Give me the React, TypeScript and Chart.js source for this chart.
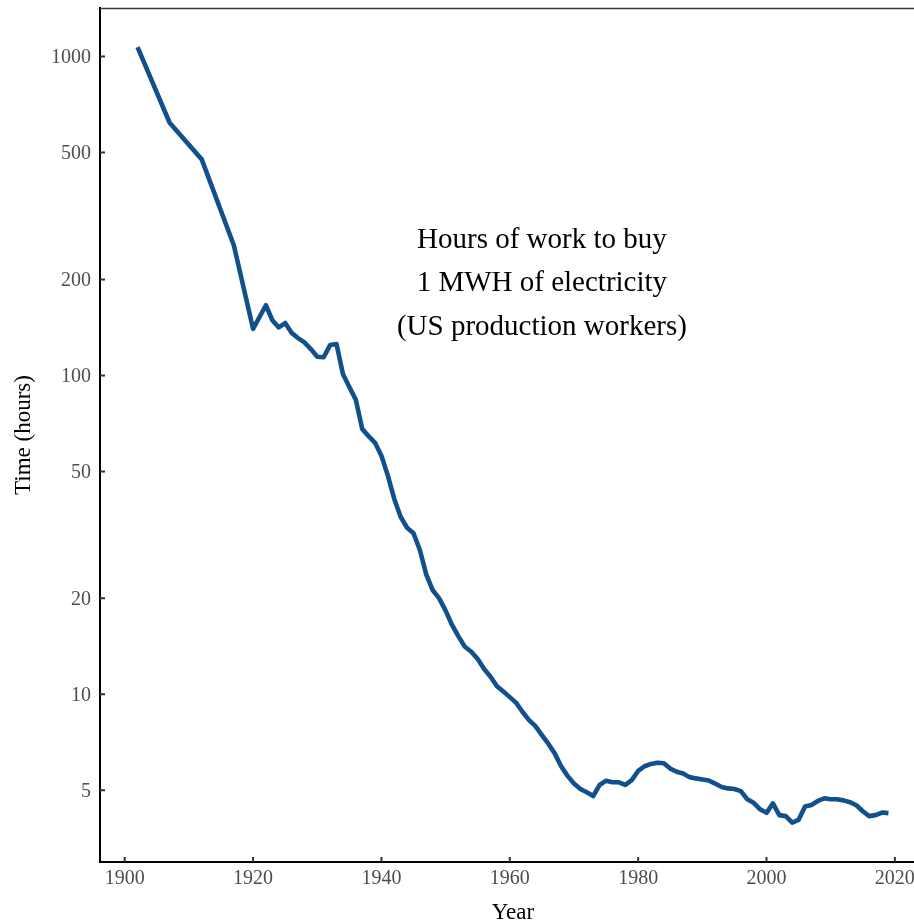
import React, { useEffect, useRef } from "react";
import { Chart, registerables } from "chart.js";

Chart.register(...registerables);

const years: number[] = [
  1902, 1907, 1912, 1917, 1920, 1922, 1923, 1924, 1925, 1926, 1927, 1928, 1929,
  1930, 1931, 1932, 1933, 1934, 1935, 1936, 1937, 1938, 1939, 1940, 1941, 1942,
  1943, 1944, 1945, 1946, 1947, 1948, 1949, 1950, 1951, 1952, 1953, 1954, 1955,
  1956, 1957, 1958, 1959, 1960, 1961, 1962, 1963, 1964, 1965, 1966, 1967, 1968,
  1969, 1970, 1971, 1972, 1973, 1974, 1975, 1976, 1977, 1978, 1979, 1980, 1981,
  1982, 1983, 1984, 1985, 1986, 1987, 1988, 1989, 1990, 1991, 1992, 1993, 1994,
  1995, 1996, 1997, 1998, 1999, 2000, 2001, 2002, 2003, 2004, 2005, 2006, 2007,
  2008, 2009, 2010, 2011, 2012, 2013, 2014, 2015, 2016, 2017, 2018, 2019,
];

const hours: number[] = [
  1070, 620, 476, 256, 140, 166, 149, 141.5, 146, 136, 131, 127, 121,
  114.5, 114, 124.5, 125.5, 101, 92, 84, 68, 64.5, 61.5, 56, 48.5, 41,
  36, 33.3, 32, 28.3, 23.7, 21.2, 20, 18.3, 16.5, 15.2, 14.1, 13.6, 12.9,
  12.0, 11.35, 10.6, 10.2, 9.8, 9.4, 8.8, 8.3, 7.95, 7.45, 7.0, 6.53, 5.95,
  5.55, 5.25, 5.05, 4.93, 4.8, 5.2, 5.36, 5.3, 5.3, 5.2, 5.38, 5.75, 5.95,
  6.05, 6.1, 6.08, 5.85, 5.72, 5.65, 5.5, 5.45, 5.41, 5.37, 5.25, 5.12, 5.07,
  5.05, 4.97, 4.69, 4.57, 4.36, 4.25, 4.55, 4.18, 4.15, 3.96, 4.04, 4.45, 4.5,
  4.63, 4.72, 4.69, 4.69, 4.65, 4.59, 4.49, 4.3, 4.15, 4.18, 4.26, 4.24,
];

const xTicks: number[] = [1900, 1920, 1940, 1960, 1980, 2000, 2020];
const yTicks: number[] = [5, 10, 20, 50, 100, 200, 500, 1000];

const annotationLines: string[] = [
  "Hours of work to buy",
  "1 MWH of electricity",
  "(US production workers)",
];
const annotationX = 1965;
const annotationY = 200;

const FONT = "'Liberation Serif', 'Times New Roman', Times, serif";
const LINE_COLOR = "#12508d";

const decorPlugin = {
  id: "decor",
  afterDraw(chart: any) {
    const { ctx, chartArea, scales } = chart;
    const xs = scales.x;
    const ys = scales.y;
    ctx.save();
    // top panel border
    ctx.strokeStyle = "#3a3a3a";
    ctx.lineWidth = 1.4;
    ctx.beginPath();
    ctx.moveTo(chartArea.left, chartArea.top + 0.5);
    ctx.lineTo(chartArea.right, chartArea.top + 0.5);
    ctx.stroke();
    // inward tick marks
    ctx.strokeStyle = "#333333";
    ctx.lineWidth = 2;
    ctx.beginPath();
    for (const v of yTicks) {
      const py = ys.getPixelForValue(v);
      ctx.moveTo(chartArea.left, py);
      ctx.lineTo(chartArea.left + 5, py);
    }
    for (const v of xTicks) {
      const px = xs.getPixelForValue(v);
      ctx.moveTo(px, chartArea.bottom);
      ctx.lineTo(px, chartArea.bottom - 5);
    }
    ctx.stroke();
    // annotation text
    const ax = xs.getPixelForValue(annotationX);
    const ay = ys.getPixelForValue(annotationY);
    ctx.fillStyle = "#000000";
    ctx.font = `29px ${FONT}`;
    ctx.textAlign = "center";
    ctx.textBaseline = "alphabetic";
    annotationLines.forEach((t, i) => {
      ctx.fillText(t, ax, ay + 12 + (i - 1) * 43.5);
    });
    ctx.restore();
  },
};

export default function App() {
  const canvasRef = useRef<HTMLCanvasElement | null>(null);

  useEffect(() => {
    if (!canvasRef.current) return;
    const chart = new Chart(canvasRef.current, {
      type: "line",
      data: {
        datasets: [
          {
            data: years.map((yr, i) => ({ x: yr, y: hours[i] })),
            borderColor: LINE_COLOR,
            borderWidth: 4.6,
            pointRadius: 0,
            tension: 0,
            fill: false,
            borderJoinStyle: "round",
            borderCapStyle: "butt",
          },
        ],
      },
      options: {
        responsive: false,
        animation: false,
        layout: { padding: { top: 8, left: 0, right: 0, bottom: 0 } },
        plugins: {
          legend: { display: false },
          tooltip: { enabled: false },
        },
        scales: {
          x: {
            type: "linear",
            min: 1896.15,
            max: 2024.85,
            afterBuildTicks: (s: any) => {
              s.ticks = xTicks.map((v) => ({ value: v }));
            },
            afterFit: (s: any) => {
              s.height = 60;
              s.paddingLeft = 0;
              s.paddingRight = 0;
              s.paddingTop = 0;
              s.paddingBottom = 0;
            },
            ticks: {
              callback: (v: any) => String(v),
              font: { family: FONT, size: 20 },
              color: "#4d4d4d",
              padding: 5,
              maxRotation: 0,
              autoSkip: false,
            },
            grid: { display: false, drawTicks: false },
            border: { display: true, color: "#000000", width: 2 },
            title: {
              display: true,
              text: "Year",
              color: "#000000",
              font: { family: FONT, size: 23, lineHeight: 1.05 },
              padding: { top: 0, bottom: -3 },
            },
          },
          y: {
            type: "logarithmic",
            min: 2.98,
            max: 1420,
            afterBuildTicks: (s: any) => {
              s.ticks = yTicks.map((v) => ({ value: v }));
            },
            afterFit: (s: any) => {
              s.width = 100;
              s.paddingTop = 0;
              s.paddingBottom = 0;
              s.paddingLeft = 0;
              s.paddingRight = 0;
            },
            ticks: {
              callback: (v: any) => String(v),
              font: { family: FONT, size: 20 },
              color: "#4d4d4d",
              padding: 9,
              labelOffset: 1.5,
              autoSkip: false,
            },
            grid: { display: false, drawTicks: false },
            border: { display: true, color: "#000000", width: 2 },
            title: {
              display: true,
              text: "Time (hours)",
              color: "#000000",
              font: { family: FONT, size: 23, lineHeight: 1.2 },
              padding: { top: 10, bottom: 0 },
            },
          },
        },
      },
      plugins: [decorPlugin],
    } as any);
    return () => chart.destroy();
  }, []);

  return (
    <div
      style={{
        position: "fixed",
        left: 0,
        top: 0,
        width: 914,
        height: 922,
        overflow: "hidden",
        background: "#ffffff",
      }}
    >
      <canvas ref={canvasRef} width={926} height={922} style={{ display: "block" }} />
    </div>
  );
}
